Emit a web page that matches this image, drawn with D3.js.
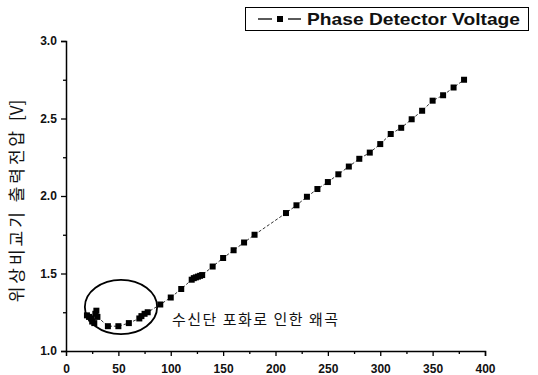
<!DOCTYPE html>
<html><head><meta charset="utf-8">
<script src="https://cdn.jsdelivr.net/npm/d3@7"></script>
<style>body{margin:0;background:#fff}svg{display:block}</style>
</head><body>
<svg id="c" width="538" height="375"></svg>
<script>
const xVals = [20,22,24,25,27,28,29,30,40,50,60,70,72,75,78,90,100,110,120,122,124,126,128,130,140,150,160,170,180,210,220,230,240,250,260,270,280,290,300,310,320,330,340,350,360,370,380];
const yVals = [1.23,1.22,1.21,1.19,1.18,1.24,1.26,1.22,1.16,1.16,1.18,1.21,1.225,1.24,1.25,1.30,1.345,1.40,1.46,1.47,1.475,1.48,1.485,1.49,1.545,1.60,1.65,1.70,1.75,1.89,1.94,1.995,2.045,2.09,2.14,2.19,2.24,2.28,2.335,2.40,2.44,2.495,2.55,2.615,2.65,2.70,2.75];
const xTicks = [0,50,100,150,200,250,300,350,400];
const yTicks = [1.0,1.5,2.0,2.5,3.0];
const seriesName = "Phase Detector Voltage";
const yTitleMain = "위상비교기 출력전압";
const yTitleUnit = "[V]";
const note = "수신단 포화로 인한 왜곡";
const ellipse = {cx:52.5, cy:1.284, rx:34.5, ry:0.175};

const svg = d3.select("#c");
const x = d3.scaleLinear().domain([0,400]).range([66,485]);
const y = d3.scaleLinear().domain([1,3]).range([351,41]);
const font = "'Liberation Sans', Arial, sans-serif";

// axes
const xAxis = d3.axisBottom(x).tickValues(xTicks).tickSize(5).tickFormat(d3.format("d"));
const gx = svg.append("g").attr("transform",`translate(0,${y(1)})`).call(xAxis);
gx.selectAll(".tick").filter(d=>d===0).select("line").remove();
const gxm = svg.append("g").attr("transform",`translate(0,${y(1)})`)
  .call(d3.axisBottom(x).tickValues(d3.range(25,400,50)).tickSize(3).tickFormat(""));
const yAxis = d3.axisLeft(y).tickValues(yTicks).tickSize(5).tickFormat(d3.format(".1f"));
const gy = svg.append("g").attr("transform",`translate(${x(0)},0)`).call(yAxis);
const gym = svg.append("g").attr("transform",`translate(${x(0)},0)`)
  .call(d3.axisLeft(y).tickValues([1.25,1.75,2.25,2.75]).tickSize(3).tickFormat(""));
[gx,gxm,gy,gym].forEach(g=>{
  g.select(".domain").attr("stroke","#000").attr("stroke-width",1.5);
  g.selectAll(".tick line").attr("stroke","#000").attr("stroke-width",1.3);
});
gxm.select(".domain").remove(); gym.select(".domain").remove();
[gx,gy].forEach(g=>g.selectAll("text").attr("font-family",font).attr("font-size",12).attr("font-weight","bold").attr("fill","#111"));
gx.selectAll("text").attr("dy","1.2em");
gy.selectAll("text").attr("dx","-0.1em");

// line
const pts = xVals.map((v,i)=>[v,yVals[i]]);
svg.append("path").datum(pts)
  .attr("fill","none").attr("stroke","#333").attr("stroke-width",1)
  .attr("stroke-dasharray","3,2")
  .attr("d",d3.line().x(d=>x(d[0])).y(d=>y(d[1])));
svg.append("g").selectAll("rect").data(pts).join("rect")
  .attr("x",d=>x(d[0])-3).attr("y",d=>y(d[1])-3)
  .attr("width",6).attr("height",6).attr("fill","#000");

// ellipse annotation
svg.append("ellipse")
  .attr("cx",x(ellipse.cx)).attr("cy",y(ellipse.cy))
  .attr("rx",x(ellipse.cx+ellipse.rx)-x(ellipse.cx))
  .attr("ry",y(ellipse.cy-ellipse.ry)-y(ellipse.cy))
  .attr("fill","none").attr("stroke","#000").attr("stroke-width",1.8);
svg.append("text").attr("x",172).attr("y",325)
  .attr("font-family","'Noto Sans CJK KR', sans-serif").attr("font-size",15)
  .attr("textLength",166).attr("lengthAdjust","spacing")
  .attr("fill","#111").text(note);

// y title
const yt = svg.append("text").attr("transform","translate(23,201) rotate(-90)")
  .attr("text-anchor","middle")
  .attr("font-family","'Noto Sans CJK KR', sans-serif").attr("font-size",17)
  .attr("fill","#111");
yt.append("tspan").attr("letter-spacing","3px").text(yTitleMain + " ");
yt.append("tspan").text(yTitleUnit);

// legend
const lg = svg.append("g");
lg.append("rect").attr("x",245.5).attr("y",7.5).attr("width",283).attr("height",23)
  .attr("fill","#fff").attr("stroke","#000").attr("stroke-width",1);
lg.append("line").attr("x1",258).attr("x2",272).attr("y1",19).attr("y2",19)
  .attr("stroke","#000").attr("stroke-width",1.3);
lg.append("line").attr("x1",288).attr("x2",301).attr("y1",19).attr("y2",19)
  .attr("stroke","#000").attr("stroke-width",1.3);
lg.append("rect").attr("x",277).attr("y",16).attr("width",6).attr("height",6).attr("fill","#000");
lg.append("text").attr("x",307).attr("y",25)
  .attr("font-family",font).attr("font-size",17).attr("font-weight","bold")
  .attr("textLength",213).attr("lengthAdjust","spacingAndGlyphs")
  .attr("fill","#111").text(seriesName);
</script>
</body></html>
